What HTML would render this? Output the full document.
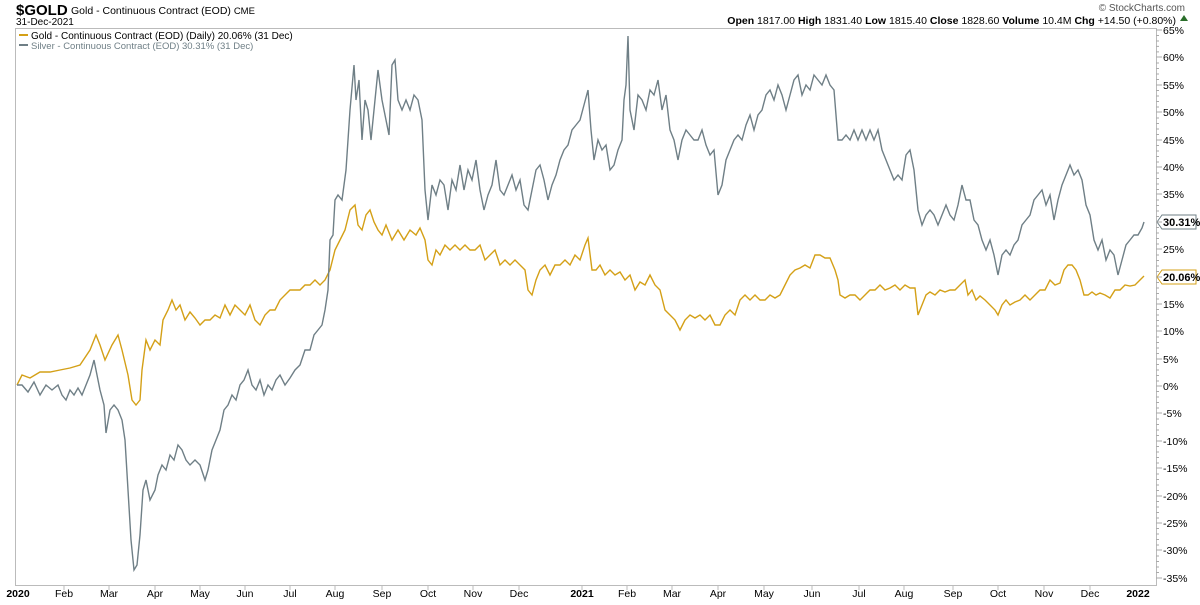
<!DOCTYPE html>
<html><head><meta charset="utf-8"><style>
body{margin:0;background:#fff;width:1200px;height:600px;overflow:hidden;font-family:"Liberation Sans",sans-serif}
</style></head><body>
<svg width="1200" height="600" xmlns="http://www.w3.org/2000/svg" font-family="Liberation Sans, sans-serif">
<rect width="1200" height="600" fill="#fff"/>
<text x="16" y="15" font-size="15" font-weight="bold" fill="#000">$GOLD</text>
<text x="71" y="14" font-size="10.5" fill="#000">Gold - Continuous Contract (EOD) <tspan font-size="9.5">CME</tspan></text>
<text x="16" y="25" font-size="10" fill="#000">31-Dec-2021</text>
<text x="1185" y="11" font-size="10" fill="#555" text-anchor="end">© StockCharts.com</text>
<text x="1176" y="24" font-size="10.5" fill="#000" text-anchor="end"><tspan font-weight="bold">Open</tspan> 1817.00 <tspan font-weight="bold">High</tspan> 1831.40 <tspan font-weight="bold">Low</tspan> 1815.40 <tspan font-weight="bold">Close</tspan> 1828.60 <tspan font-weight="bold">Volume</tspan> 10.4M <tspan font-weight="bold">Chg</tspan> +14.50 (+0.80%)</text>
<polygon points="1180,21 1188,21 1184,15" fill="#2a6e2a"/>
<rect x="15.5" y="28.5" width="1141" height="557" fill="none" stroke="#bbb"/>
<g id="ticks" stroke="#aaa" stroke-width="1"></g>
<g font-size="10.5" fill="#000">
<text x="1163" y="34">65%</text><text x="1163" y="61">60%</text><text x="1163" y="89">55%</text><text x="1163" y="116">50%</text><text x="1163" y="144">45%</text><text x="1163" y="171">40%</text><text x="1163" y="198">35%</text><text x="1163" y="253">25%</text><text x="1163" y="308">15%</text><text x="1163" y="335">10%</text><text x="1163" y="363">5%</text><text x="1163" y="390">0%</text><text x="1163" y="417">-5%</text><text x="1163" y="445">-10%</text><text x="1163" y="472">-15%</text><text x="1163" y="500">-20%</text><text x="1163" y="527">-25%</text><text x="1163" y="554">-30%</text><text x="1163" y="582">-35%</text>
</g>
<polygon points="1157,222 1162,215 1196,215 1196,229 1162,229" fill="#fff" stroke="#6f7f86"/>
<text x="1163" y="226" font-size="11" font-weight="bold">30.31%</text>
<polygon points="1157,277 1162,270 1196,270 1196,284 1162,284" fill="#fff" stroke="#d4a017"/>
<text x="1163" y="281" font-size="11" font-weight="bold">20.06%</text>
<g stroke="#bbb"><line x1="64" y1="585" x2="64" y2="590"/><line x1="109" y1="585" x2="109" y2="590"/><line x1="155" y1="585" x2="155" y2="590"/><line x1="200" y1="585" x2="200" y2="590"/><line x1="245" y1="585" x2="245" y2="590"/><line x1="290" y1="585" x2="290" y2="590"/><line x1="335" y1="585" x2="335" y2="590"/><line x1="382" y1="585" x2="382" y2="590"/><line x1="428" y1="585" x2="428" y2="590"/><line x1="473" y1="585" x2="473" y2="590"/><line x1="519" y1="585" x2="519" y2="590"/><line x1="582" y1="585" x2="582" y2="590"/><line x1="627" y1="585" x2="627" y2="590"/><line x1="672" y1="585" x2="672" y2="590"/><line x1="718" y1="585" x2="718" y2="590"/><line x1="764" y1="585" x2="764" y2="590"/><line x1="812" y1="585" x2="812" y2="590"/><line x1="859" y1="585" x2="859" y2="590"/><line x1="904" y1="585" x2="904" y2="590"/><line x1="953" y1="585" x2="953" y2="590"/><line x1="998" y1="585" x2="998" y2="590"/><line x1="1044" y1="585" x2="1044" y2="590"/><line x1="1090" y1="585" x2="1090" y2="590"/></g>
<g font-size="10.5" fill="#000" text-anchor="middle">
<text x="18" y="597" font-weight="bold">2020</text><text x="64" y="597">Feb</text><text x="109" y="597">Mar</text><text x="155" y="597">Apr</text><text x="200" y="597">May</text><text x="245" y="597">Jun</text><text x="290" y="597">Jul</text><text x="335" y="597">Aug</text><text x="382" y="597">Sep</text><text x="428" y="597">Oct</text><text x="473" y="597">Nov</text><text x="519" y="597">Dec</text><text x="582" y="597" font-weight="bold">2021</text><text x="627" y="597">Feb</text><text x="672" y="597">Mar</text><text x="718" y="597">Apr</text><text x="764" y="597">May</text><text x="812" y="597">Jun</text><text x="859" y="597">Jul</text><text x="904" y="597">Aug</text><text x="953" y="597">Sep</text><text x="998" y="597">Oct</text><text x="1044" y="597">Nov</text><text x="1090" y="597">Dec</text><text x="1138" y="597" font-weight="bold">2022</text>
</g>
<g stroke="#aaa">
<path d="M1156 30h6M1156 57h6M1156 85h6M1156 112h6M1156 140h6M1156 167h6M1156 194h6M1156 222h6M1156 249h6M1156 277h6M1156 304h6M1156 331h6M1156 359h6M1156 386h6M1156 413h6M1156 441h6M1156 468h6M1156 496h6M1156 523h6M1156 550h6M1156 578h6"/>
<path d="M1156 35.5h3M1156 41h3M1156 46.4h3M1156 51.9h3M1156 63h3M1156 68.5h3M1156 74h3M1156 79.5h3M1156 90.5h3M1156 96h3M1156 101.5h3M1156 107h3M1156 118h3M1156 123.5h3M1156 129h3M1156 134.5h3M1156 145.5h3M1156 151h3M1156 156.5h3M1156 162h3M1156 173h3M1156 178.5h3M1156 184h3M1156 189.5h3M1156 200h3M1156 205.5h3M1156 211h3M1156 216.5h3M1156 227.5h3M1156 233h3M1156 238.5h3M1156 244h3M1156 255h3M1156 260.5h3M1156 266h3M1156 271.5h3M1156 282.5h3M1156 288h3M1156 293.5h3M1156 299h3M1156 309.5h3M1156 315h3M1156 320.5h3M1156 326h3M1156 337h3M1156 342.5h3M1156 348h3M1156 353.5h3M1156 364.5h3M1156 370h3M1156 375.5h3M1156 381h3M1156 391.5h3M1156 397h3M1156 402.5h3M1156 408h3M1156 419h3M1156 424.5h3M1156 430h3M1156 435.5h3M1156 446.5h3M1156 452h3M1156 457.5h3M1156 463h3M1156 474h3M1156 479.5h3M1156 485h3M1156 490.5h3M1156 501.5h3M1156 507h3M1156 512.5h3M1156 518h3M1156 528.5h3M1156 534h3M1156 539.5h3M1156 545h3M1156 556h3M1156 561.5h3M1156 567h3M1156 572.5h3"/>
</g>
<rect x="16" y="29" width="345" height="23" fill="#fff"/>
<line x1="19" y1="35" x2="28" y2="35" stroke="#d4a017" stroke-width="2"/>
<text x="31" y="39" font-size="10" fill="#000">Gold - Continuous Contract (EOD) (Daily) 20.06% (31 Dec)</text>
<line x1="19" y1="45" x2="28" y2="45" stroke="#6f7f86" stroke-width="2"/>
<text x="31" y="49" font-size="9.5" fill="#6f7f86">Silver - Continuous Contract (EOD) 30.31% (31 Dec)</text>
<polyline fill="none" stroke="#d4a017" stroke-width="1.4" points="17,385 22,375 30,378 40,372 50,372 60,370 70,368 80,365 90,350 96,335 100,345 105,360 112,345 118,335 122,350 128,375 132,400 136,405 140,400 142,370 146,340 150,350 155,340 160,345 163,320 168,310 172,300 176,310 180,305 185,320 190,312 195,318 200,325 205,320 210,320 215,315 220,318 225,305 230,315 235,305 240,310 245,315 250,305 255,320 260,325 265,315 270,310 275,310 280,300 285,295 290,290 295,290 300,290 305,285 310,285 315,280 320,285 325,280 330,270 335,250 340,240 345,230 350,210 355,205 358,225 362,230 366,215 370,210 374,222 378,230 382,235 386,225 392,240 398,230 404,240 410,230 416,235 420,228 425,240 428,260 432,265 436,250 440,255 445,245 450,250 455,245 460,250 465,245 470,250 475,250 480,245 485,260 490,255 495,250 500,265 505,260 510,265 515,260 520,265 525,270 528,290 532,295 536,280 540,270 545,265 550,275 555,265 560,265 565,260 570,265 575,255 580,260 585,245 588,238 592,270 596,270 600,265 605,275 610,270 615,275 620,272 625,280 630,275 635,290 640,282 645,285 650,275 655,285 660,290 665,310 670,315 675,320 680,330 685,320 690,315 695,318 700,315 705,320 710,315 715,325 720,325 725,315 730,310 735,315 740,300 745,295 750,300 755,295 760,300 765,300 770,295 775,298 780,295 785,285 790,275 795,270 800,268 805,265 810,268 815,255 820,255 825,258 830,258 835,270 838,280 840,295 845,298 850,295 855,295 860,300 865,295 870,290 875,290 880,285 885,290 890,288 895,285 900,290 905,285 910,288 915,288 918,315 922,305 926,295 930,292 935,295 940,290 945,292 950,290 955,290 960,285 965,280 968,295 972,290 976,300 980,296 985,300 990,305 995,310 998,315 1002,305 1006,300 1010,305 1015,302 1020,300 1025,295 1030,300 1035,295 1040,290 1045,290 1050,280 1055,285 1060,283 1064,270 1068,265 1072,265 1076,270 1080,280 1084,295 1088,295 1092,292 1096,295 1100,293 1105,295 1110,298 1115,290 1120,290 1125,285 1130,286 1135,285 1140,280 1144,276"/>
<polyline fill="none" stroke="#6f7f86" stroke-width="1.4" points="17,385 22,385 28,392 34,382 40,395 46,385 52,390 58,385 62,395 66,400 70,390 74,395 78,388 82,395 86,385 90,375 94,360 98,380 100,390 104,405 106,433 110,410 114,405 118,410 122,420 125,440 128,490 131,540 134,570 137,565 140,535 143,490 146,480 150,500 155,490 158,475 162,465 166,470 170,455 174,460 178,445 182,450 186,460 190,465 195,460 200,465 205,480 208,470 212,450 216,440 220,430 224,410 228,405 232,395 236,400 240,385 244,380 248,370 252,385 256,390 260,380 264,395 268,385 272,390 276,380 280,375 285,385 290,378 295,370 300,365 305,350 310,350 314,335 318,330 322,325 325,310 328,290 330,240 333,235 335,200 338,195 342,200 346,170 350,110 354,65 356,100 359,80 362,140 365,100 368,110 371,140 374,110 378,70 382,100 386,120 389,135 392,65 395,60 398,100 402,110 406,100 410,110 414,95 418,100 422,120 425,190 428,220 432,185 436,195 440,180 444,185 448,210 452,180 456,190 460,165 464,190 468,170 472,180 476,160 480,190 484,210 488,195 492,185 496,160 500,190 504,195 508,185 512,175 516,190 520,180 524,205 528,210 532,190 536,170 540,165 544,180 548,200 552,185 556,175 560,160 564,150 568,145 572,130 576,125 580,120 584,105 588,90 591,130 594,160 598,140 602,150 606,145 610,170 614,165 618,150 622,140 624,100 626,85 628,36 630,110 634,130 638,95 642,100 646,110 650,90 654,95 658,80 662,110 666,95 670,130 674,140 678,160 682,140 686,130 690,135 694,140 698,140 702,130 706,145 710,155 714,150 718,195 722,185 726,160 730,150 734,140 738,135 742,140 746,125 750,115 754,130 758,115 762,110 766,95 770,90 774,100 778,85 782,95 786,110 790,95 794,80 798,75 802,95 806,85 810,90 814,75 818,80 822,85 826,75 830,85 834,90 838,140 842,140 846,135 850,140 854,130 858,140 862,130 866,140 870,130 874,140 878,130 882,150 886,160 890,170 894,180 898,175 902,180 906,155 910,150 914,170 918,210 922,225 926,215 930,210 934,215 938,225 942,215 946,205 950,215 954,220 958,205 962,185 966,200 970,200 974,220 978,225 982,240 986,250 990,240 994,255 998,275 1002,255 1006,250 1010,255 1014,245 1018,240 1022,225 1026,220 1030,215 1034,200 1038,195 1042,190 1046,205 1050,195 1054,220 1058,200 1062,185 1066,175 1070,165 1074,175 1078,170 1082,180 1086,205 1090,215 1094,240 1098,250 1102,240 1106,260 1110,250 1114,255 1118,275 1122,260 1126,245 1130,240 1134,235 1138,235 1142,228 1144,222"/>
</svg>
</body></html>
